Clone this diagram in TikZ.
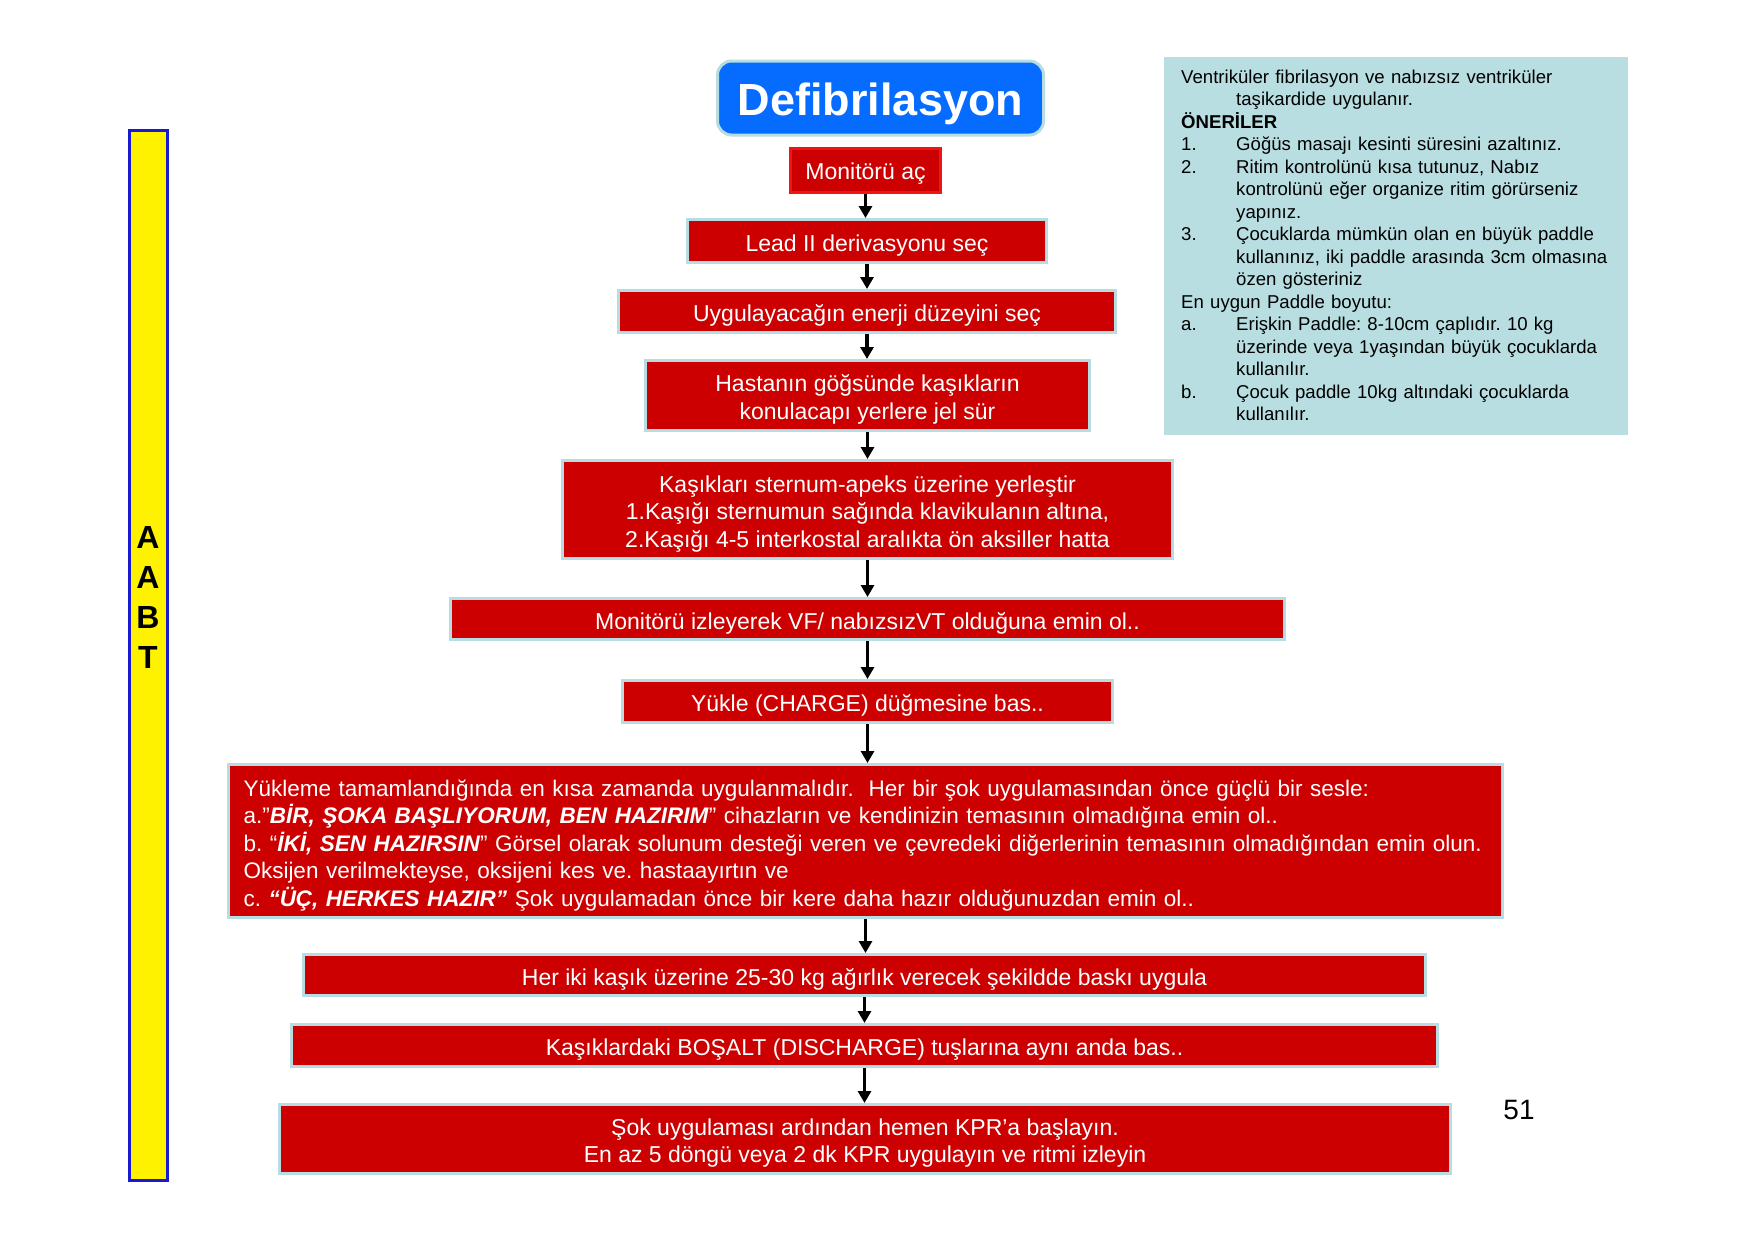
\documentclass[tikz,border=0pt]{standalone}
\usepackage{fontspec}
\setmainfont{Liberation Sans}
\usetikzlibrary{arrows.meta}
\definecolor{boxred}{RGB}{204,0,0}
\definecolor{boxedge}{RGB}{183,220,226}
\definecolor{firstedge}{RGB}{240,20,20}
\definecolor{titleblue}{RGB}{5,108,255}
\definecolor{infobg}{RGB}{184,222,226}
\definecolor{baredge}{RGB}{25,25,210}
\newcommand{\tabit}[1]{\makebox[55pt][l]{#1}}
\newcommand{\lowr}{\rule{0pt}{25pt}}
\frenchspacing
\begin{document}
\frenchspacing
\begin{tikzpicture}[x=1pt,y=-1pt,
  redbox/.style={fill=boxred, draw=boxedge, line width=3pt, text=white,
    font=\fontsize{23}{27.5}\selectfont, inner sep=0pt, align=center},
  titlebox/.style={fill=titleblue, draw=boxedge, line width=3pt, rounded corners=14pt,
    text=white, font=\bfseries\fontsize{45}{50}\selectfont, inner sep=0pt},
  arr/.style={line width=3.5pt, -{Triangle[width=13pt,length=12pt]}},
  infotext/.style={font=\fontsize{18.6}{22.5}\selectfont, inner sep=0pt, align=left, text width=455pt}
]
\useasboundingbox (0,0) rectangle (1755,1240);

% left yellow bar
\node[fill=yellow, draw=baredge, line width=3pt, minimum width=38pt, minimum height=1050pt, inner sep=0pt] (bar) at (148,655) {};
\node[font=\bfseries\fontsize{32}{40}\selectfont, align=center, inner sep=0pt] (abat) at (148,597) {A\\A\\B\\T};

% title
\node[titlebox, minimum width=326pt, minimum height=74pt] (title) at (880.5,98) {\rule{0pt}{45pt}Defibrilasyon};

% info box
\node[fill=infobg, minimum width=464pt, minimum height=378pt, inner sep=0pt] (info) at (1395.5,246) {};
\node[infotext, anchor=base west] (infotxt) at (1181,83) {%
Ventriküler fibrilasyon ve nabızsız ventriküler\\
\tabit{}taşikardide uygulanır.\\
\textbf{ÖNERİLER}\\
\tabit{1.}Göğüs masajı kesinti süresini azaltınız.\\
\tabit{2.}Ritim kontrolünü kısa tutunuz, Nabız\\
\tabit{}kontrolünü eğer organize ritim görürseniz\\
\tabit{}yapınız.\\
\tabit{3.}Çocuklarda mümkün olan en büyük paddle\\
\tabit{}kullanınız, iki paddle arasında 3cm olmasına\\
\tabit{}özen gösteriniz\\
En uygun Paddle boyutu:\\
\tabit{a.}Erişkin Paddle: 8-10cm çaplıdır. 10 kg\\
\tabit{}üzerinde veya 1yaşından büyük çocuklarda\\
\tabit{}kullanılır.\\
\tabit{b.}Çocuk paddle 10kg altındaki çocuklarda\\
\tabit{}kullanılır.};

% flow boxes
\node[redbox, draw=firstedge, minimum width=150pt, minimum height=44pt] (b1) at (865.5,170.5) {\rule{0pt}{22pt}Monitörü aç};
\node[redbox, minimum width=359pt, minimum height=43pt] (b2) at (867,241) {\lowr Lead II derivasyonu seç};
\node[redbox, minimum width=497pt, minimum height=42pt] (b3) at (867,311.5) {\lowr Uygulayacağın enerji düzeyini seç};
\node[redbox, minimum width=444pt, minimum height=70pt] (b4) at (867.5,395.5) {\lowr Hastanın göğsünde kaşıkların\\konulacapı yerlere jel sür};
\node[redbox, minimum width=610pt, minimum height=98pt] (b5) at (867.5,509.5) {\lowr Kaşıkları sternum-apeks üzerine yerleştir\\1.Kaşığı sternumun sağında klavikulanın altına,\\2.Kaşığı 4-5 interkostal aralıkta ön aksiller hatta};
\node[redbox, minimum width=834pt, minimum height=41pt] (b6) at (867.5,619) {\lowr Monitörü izleyerek VF/ nabızsızVT olduğuna emin ol..};
\node[redbox, minimum width=490pt, minimum height=42pt] (b7) at (867.5,701.5) {\lowr Yükle (CHARGE) düğmesine bas..};
\node[redbox, minimum width=1274pt, minimum height=153pt, align=left, text width=1244pt, inner xsep=15pt,
      font=\fontsize{22.5}{27.5}\selectfont] (b8) at (865.5,841) {%
\mbox{\lowr Yükleme tamamlandığında en kısa zamanda uygulanmalıdır.\ \ Her bir şok uygulamasından önce güçlü bir sesle:}\\
\mbox{a.”\textbf{\textit{BİR, ŞOKA BAŞLIYORUM, BEN HAZIRIM}}” cihazların ve kendinizin temasının olmadığına emin ol..}\\
\mbox{b. “\textbf{\textit{İKİ, SEN HAZIRSIN}}” Görsel olarak solunum desteği veren ve çevredeki diğerlerinin temasının olmadığından emin olun.}\\
\mbox{Oksijen verilmekteyse, oksijeni kes ve. hastaayırtın ve}\\
\mbox{c. \textbf{\textit{“ÜÇ, HERKES HAZIR”}} Şok uygulamadan önce bir kere daha hazır olduğunuzdan emin ol..}};
\node[redbox, minimum width=1122pt, minimum height=41pt] (b9) at (864.5,975) {\lowr Her iki kaşık üzerine 25-30 kg ağırlık verecek şekildde baskı uygula};
\node[redbox, minimum width=1146pt, minimum height=42pt] (b10) at (864.5,1045.5) {\lowr Kaşıklardaki BOŞALT (DISCHARGE) tuşlarına aynı anda bas..};
\node[redbox, minimum width=1171pt, minimum height=69pt] (b11) at (865,1139) {\lowr Şok uygulaması ardından hemen KPR’a başlayın.\\En az 5 döngü veya 2 dk KPR uygulayın ve ritmi izleyin};

% page number
\node[font=\fontsize{28}{30}\selectfont, inner sep=0pt] (pg) at (1519,1110) {51};

% arrows
\foreach \a/\b in {b1/b2,b2/b3,b3/b4,b4/b5,b5/b6,b6/b7,b7/b8,b8/b9,b9/b10,b10/b11}
  \draw[arr] (\a.south) -- (\a.south |- \b.north);
\end{tikzpicture}
\end{document}
